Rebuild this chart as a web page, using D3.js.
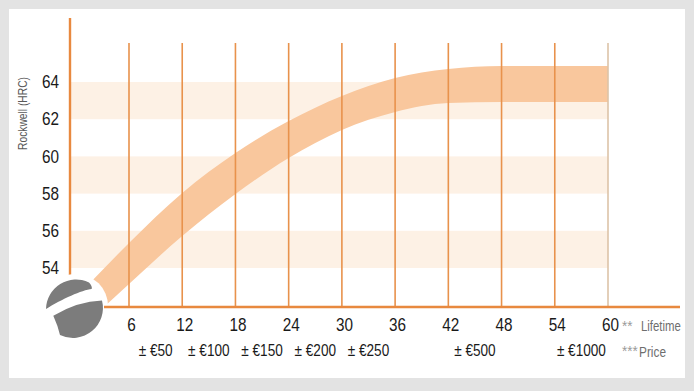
<!DOCTYPE html>
<html>
<head>
<meta charset="utf-8">
<script src="https://cdn.jsdelivr.net/npm/d3@7"></script>
<style>
  html, body { margin: 0; padding: 0; background: #e3e3e3; }
  svg { display: block; }
  text { font-family: "Liberation Sans", Arial, sans-serif; }
</style>
</head>
<body>
<svg id="chart" width="694" height="391"></svg>
<script>
// ---- data ----
const months = [0, 6, 12, 18, 24, 30, 36, 42, 48, 54, 60];
const hrcUpper = [52.4, 55.34, 58.03, 60.18, 61.9, 63.25, 64.22, 64.7, 64.86, 64.86, 64.86];
const hrcLower = [50.5, 53.14, 55.72, 57.98, 59.91, 61.42, 62.39, 62.87, 62.92, 62.92, 62.92];
const xTicks = [6, 12, 18, 24, 30, 36, 42, 48, 54, 60];
const yTicks = [54, 56, 58, 60, 62, 64];
const bandRanges = [[54, 56], [58, 60], [62, 64]];
const priceMonths = [9, 15, 21, 27, 33, 45, 57];
const priceLabels = ["± €50", "± €100", "± €150", "± €200", "± €250", "± €500", "± €1000"];

// ---- setup ----
const svg = d3.select("#chart");
const W = 694, H = 391;
const x = d3.scaleLinear().domain([6, 60]).range([129, 608]);
const y = d3.scaleLinear().domain([54, 64]).range([268, 82]);
const axisX = 70, baseY = 307;
const orange = "#e8893f";
const FONT = "Liberation Sans, Arial, sans-serif";

svg.append("rect").attr("width", W).attr("height", H).attr("fill", "#e3e3e3");
svg.append("rect").attr("x", 9).attr("y", 9).attr("width", 676).attr("height", 369).attr("fill", "#ffffff");

svg.append("defs").append("clipPath").attr("id", "plotclip")
  .append("rect").attr("x", axisX).attr("y", 10).attr("width", 620).attr("height", baseY - 10);

// bands
svg.append("g").selectAll("rect").data(bandRanges).join("rect")
  .attr("x", axisX + 1)
  .attr("width", x(60) - axisX - 1)
  .attr("y", d => y(d[1]))
  .attr("height", d => y(d[0]) - y(d[1]))
  .attr("fill", "#fdf1e5");

// ribbon
const area = d3.area()
  .x((d, i) => x(months[i]))
  .y0((d, i) => y(hrcLower[i]))
  .y1((d, i) => y(hrcUpper[i]))
  .curve(d3.curveMonotoneX);
svg.append("path")
  .attr("clip-path", "url(#plotclip)")
  .attr("d", area(months))
  .attr("fill", "#f9c79d");

// gridlines
svg.append("g").selectAll("line").data(xTicks).join("line")
  .attr("x1", d => x(d)).attr("x2", d => x(d))
  .attr("y1", 43).attr("y2", baseY)
  .attr("stroke", d => d === 60 ? "#dcc3a8" : "#e8924c")
  .attr("stroke-width", 1.6);

// y axis line
svg.append("line")
  .attr("x1", axisX).attr("x2", axisX).attr("y1", 18).attr("y2", baseY)
  .attr("stroke", orange).attr("stroke-width", 2.4);

// logo
svg.append("circle").attr("cx", 76).attr("cy", 306).attr("r", 32).attr("fill", "#ffffff");
const logo = svg.append("g").attr("transform", "translate(74,308)");
logo.append("path")
  .attr("d", "M -28,1 A 30 30 0 0 1 15,-25.5 Q 18.5,-22 17.7,-19 C 8,-18 -12,-9 -28,1 Z")
  .attr("fill", "#7c7c7c");
logo.append("path")
  .attr("d", "M -20.7,7.7 Q 3.65,-6.7 28,-7.5 A 30 30 0 0 1 -14,27 Q -16,18 -20.7,7.7 Z")
  .attr("fill", "#7c7c7c");

// x axis line
svg.append("line")
  .attr("x1", 104).attr("x2", 680).attr("y1", baseY).attr("y2", baseY)
  .attr("stroke", orange).attr("stroke-width", 2.4);

// y tick labels
const gy = svg.append("g").attr("transform", "translate(59,0)")
  .call(d3.axisLeft(y).tickValues(yTicks).tickSize(0).tickPadding(0));
gy.select(".domain").remove();
gy.selectAll("text").attr("font-size", 18).attr("fill", "#1a1a1a")
  .attr("font-family", FONT)
  .attr("transform", "scale(0.85,1)");

// x tick labels
const gx = svg.append("g").attr("transform", `translate(2,${baseY})`)
  .call(d3.axisBottom(x).tickValues(xTicks).tickSize(0).tickPadding(11));
gx.select(".domain").remove();
gx.selectAll("text").attr("font-size", 18).attr("fill", "#1a1a1a")
  .attr("font-family", FONT)
  .attr("transform", "scale(0.85,1)");

// price labels
svg.append("g").selectAll("text").data(priceLabels).join("text")
  .attr("transform", (d, i) => `translate(${x(priceMonths[i])},356) scale(0.8,1)`)
  .attr("text-anchor", "middle")
  .attr("font-size", 17)
  .attr("fill", "#1a1a1a")
  .text(d => d);

// side notes
function note(tx, ty, size, sx, color, str) {
  svg.append("text").attr("transform", `translate(${tx},${ty}) scale(${sx},1)`)
    .attr("font-size", size).attr("fill", color).text(str);
}
note(622, 331, 15, 0.9, "#9a9a9a", "**");
note(641, 331, 15, 0.76, "#6e6e6e", "Lifetime");
note(622, 356, 15, 0.9, "#9a9a9a", "***");
note(639, 357, 15, 0.79, "#6e6e6e", "Price");

// y axis title
svg.append("text")
  .attr("transform", "translate(26.5,113.5) rotate(-90) scale(0.79,1)")
  .attr("text-anchor", "middle")
  .attr("font-size", 13)
  .attr("fill", "#5a5a5a")
  .text("Rockwell (HRC)");
</script>
</body>
</html>
